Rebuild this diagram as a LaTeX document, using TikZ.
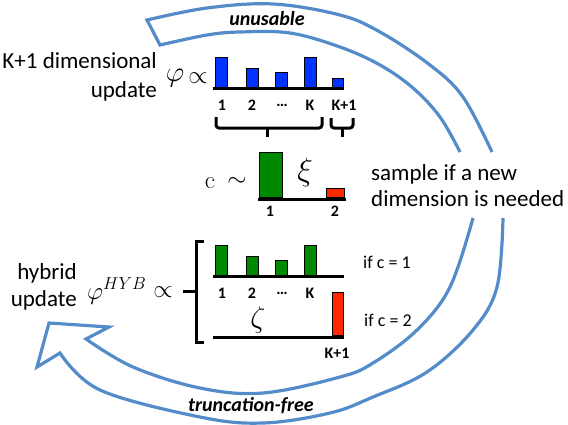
\documentclass[tikz,border=0pt]{standalone}
\usepackage{fontspec}
\setmainfont{Carlito}
\definecolor{arcblue}{RGB}{84,140,202}
\definecolor{barblue}{RGB}{0,51,255}
\definecolor{bargreen}{RGB}{0,136,0}
\definecolor{barred}{RGB}{255,40,0}
\newcommand\mytxt{\fontsize{23}{27}\selectfont}
\newcommand\mylbl{\fontsize{16}{18}\selectfont\bfseries}
\newcommand\myif{\fontsize{18}{20}\selectfont}
\newcommand\myarc{\fontsize{20}{22}\selectfont\bfseries\itshape}
\newcommand\cmrc{{\fontencoding{OT1}\fontfamily{cmr}\selectfont c}}
\tikzset{
  arcline/.style={draw=arcblue, line width=3.2pt, line join=miter},
  axisline/.style={draw=black, line width=3pt},
  bluebar/.style={draw=black, fill=barblue, line width=1pt},
  greenbar/.style={draw=black, fill=bargreen, line width=1pt},
  redbar/.style={draw=black, fill=barred, line width=1pt},
  bracepath/.style={draw=black, line width=3pt, rounded corners=3pt},
  txt/.style={inner sep=0pt, font=\mytxt},
  lbl/.style={inner sep=0pt, font=\mylbl},
  mathsym/.style={inner sep=0pt, font=\mytxt},
}
\begin{document}
\begin{tikzpicture}[x=1pt,y=-1pt]
\useasboundingbox (0,0) rectangle (568,424);

% top curved band (unusable)
\draw[arcline] plot[smooth, tension=0.6] coordinates {(492,152) (463,97) (430,65) (380,32) (340,15) (273,4) (207,8) (147,20)}
  -- plot[smooth, tension=0.6] coordinates {(160,45) (207,35) (240,32) (290,33) (340,47) (380,65) (413,88) (440,117) (460,152)};
\node[inner sep=0pt, font=\myarc] (unus) at (267,19) {unusable};

% bottom curved arrow (truncation-free)
\draw[arcline] plot[smooth, tension=0.6] coordinates {(503,218) (497,287) (473,330) (427,372) (373,397) (330,413) (263,423) (200,417) (100,390) (60,353)}
  -- (37,367) -- (49,323) -- (109,327) -- (86,339)
  -- plot[smooth, tension=0.6] coordinates {(86,339) (133,367) (200,388) (263,393) (340,377) (373,363) (417,330) (450,287) (473,218)};
\node[inner sep=0pt, font=\myarc] (trunc) at (251,406) {truncation-free};

% top: K+1 dimensional update
\node[txt, anchor=base east] (kdim) at (157,68) {K+1 dimensional};
\node[txt, anchor=base east] (upd1) at (157,97) {update};
\node[mathsym] (phi) at (175,78) {\scalebox{1.15}{$\varphi$}};
\node[mathsym] (prop1) at (198,78) {$\propto$};

\draw[bluebar] (215,57) rectangle (227,87);
\draw[bluebar] (246,68) rectangle (258,87);
\draw[bluebar] (275,72) rectangle (287,87);
\draw[bluebar] (304,57) rectangle (316,87);
\draw[bluebar] (332,78) rectangle (343,87);
\draw[axisline] (213,88.5) -- (344,88.5);

\node[lbl] (t1) at (222,105) {1};
\node[lbl] (t2) at (252,105) {2};
\node[lbl] (t3) at (282,105) {…};
\node[lbl] (tk) at (310,105) {K};
\node[lbl] (tk1) at (344,105) {K+1};

% braces
\draw[bracepath] (216,117) |- (322,128) -- (322,117);
\draw[axisline] (267,128) -- (267,137);
\draw[bracepath] (331,118) |- (353,128) -- (353,118);
\draw[axisline] (342,128) -- (342,137);

% middle: c ~ xi
\node[mathsym] (c) at (210,183) {\cmrc};
\node[mathsym] (sim) at (237,182) {$\sim$};
\draw[greenbar] (259,152) rectangle (282,197);
\draw[redbar] (326,188) rectangle (344,197);
\draw[axisline] (258,199) -- (346,199);
\node[mathsym] (xi) at (305,172) {\scalebox{1.3}{$\xi$}};
\node[lbl] (m1) at (270,211) {1};
\node[lbl] (m2) at (335,211) {2};

\node[txt, anchor=base west] (samp1) at (371,180) {sample if a new};
\node[txt, anchor=base west] (samp2) at (371,206) {dimension is needed};

% bottom: hybrid update
\node[txt, anchor=base east] (hyb) at (77,279) {hybrid};
\node[txt, anchor=base east] (upd2) at (77,306) {update};
\node[mathsym, anchor=base west] (phihyb) at (87,299) {$\varphi^{HYB}$};
\node[mathsym] (prop2) at (163,292) {$\propto$};

% bracket
\draw[draw=black, line width=3pt] (204,241) -- (196,241) -- (196,342) -- (204,342);
\draw[axisline] (183,291) -- (196,291);

\draw[greenbar] (215,245) rectangle (227,275);
\draw[greenbar] (246,256) rectangle (258,275);
\draw[greenbar] (275,260) rectangle (287,275);
\draw[greenbar] (304,245) rectangle (316,275);
\draw[axisline] (213,276.5) -- (344,276.5);
\node[lbl] (b1) at (222,293) {1};
\node[lbl] (b2) at (252,293) {2};
\node[lbl] (b3) at (282,293) {…};
\node[lbl] (bk) at (310,293) {K};
\node[mathsym] (zeta) at (258,320) {\scalebox{1.2}{$\zeta$}};
\draw[redbar] (332,292) rectangle (343,335);
\draw[axisline] (213,337) -- (344,337);
\node[lbl] (bk1) at (337,353) {K+1};

\node[inner sep=0pt, font=\myif, anchor=west] (if1) at (363,262) {if c = 1};
\node[inner sep=0pt, font=\myif, anchor=west] (if2) at (364,320) {if c = 2};
\end{tikzpicture}
\end{document}
